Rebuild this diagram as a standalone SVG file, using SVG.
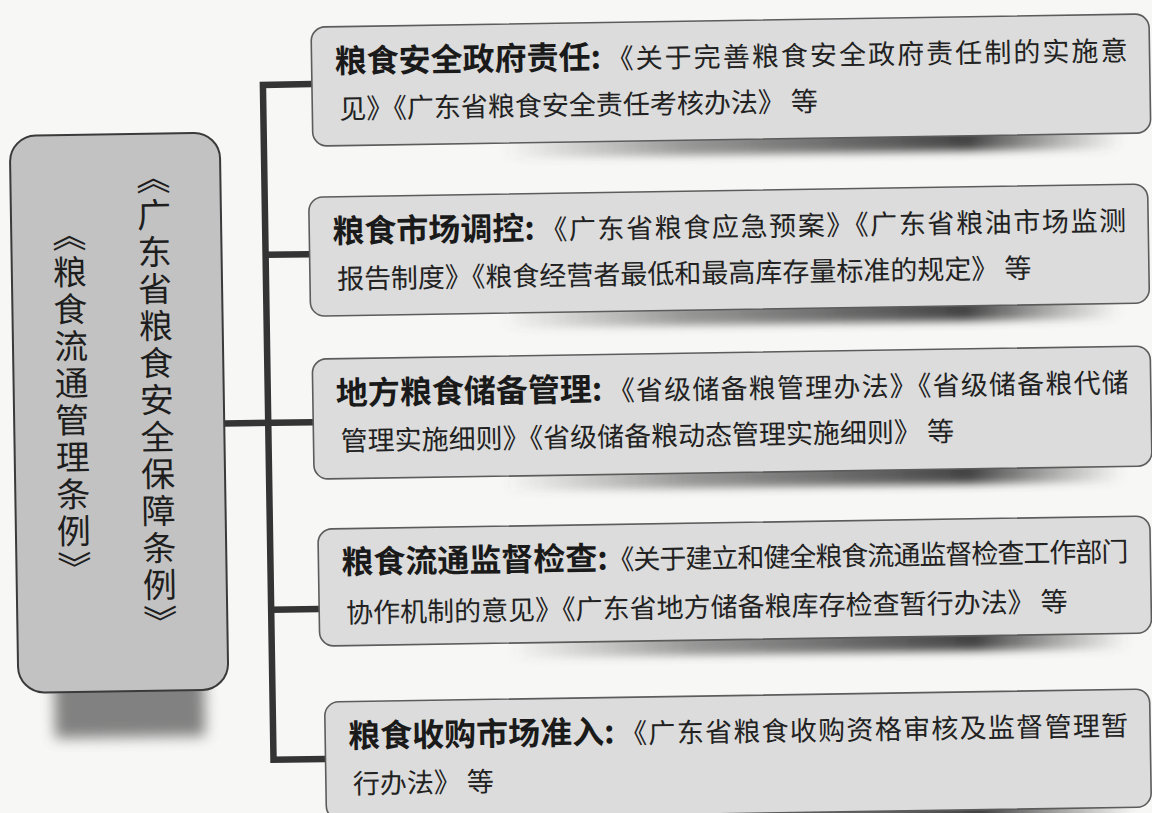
<svg xmlns="http://www.w3.org/2000/svg" width="1152" height="813" viewBox="0 0 1152 813">
<defs>
<style>
.bg{fill:#f7f7f6}
.box{fill:#dcdcdc;stroke:#5c5c5c;stroke-width:1.6}
.main{fill:#c2c2c2;stroke:#3a3a3a;stroke-width:2}
.h{font-family:"Noto Sans CJK SC","Noto Sans CJK TC",sans-serif;font-size:32px;font-weight:700;fill:#1a1a1a}
.b{font-family:"Noto Sans CJK SC","Noto Sans CJK TC",sans-serif;font-size:27px;fill:#222}
.v{font-family:"Noto Sans CJK SC","Noto Sans CJK TC",sans-serif;font-size:34px;letter-spacing:3px;writing-mode:vertical-rl;fill:#1e1e1e}
.con{fill:none;stroke:#343434;stroke-width:6.5;stroke-linecap:butt;stroke-linejoin:miter}
.sh{fill:url(#shg);filter:url(#blur)}
.msh{fill:#5a5a5a;opacity:0.75;filter:url(#blur2)}
</style>
<linearGradient id="shg" x1="0" x2="1" y1="0" y2="0">
<stop offset="0" stop-color="#555" stop-opacity="0"/>
<stop offset="0.3" stop-color="#555" stop-opacity="0.6"/>
<stop offset="0.75" stop-color="#3a3a3a" stop-opacity="0.95"/>
<stop offset="1" stop-color="#555" stop-opacity="0"/>
</linearGradient>
<filter id="blur" x="-10%" y="-100%" width="120%" height="300%"><feGaussianBlur stdDeviation="4"/></filter>
<filter id="blur2" x="-30%" y="-30%" width="160%" height="160%"><feGaussianBlur stdDeviation="7"/></filter>
</defs>
<rect class="bg" width="1152" height="813"/>
<g transform="rotate(-0.9 576 406)">
<g id="connectors">
<path class="con" d="M317 80 H268 V755 H320"/>
<path class="con" d="M268 250 H312"/>
<path class="con" d="M224 418 H313"/>
<path class="con" d="M268 605 H316"/>
</g>
<g id="root">
<rect class="msh" x="50" y="668" width="150" height="62"/>
<rect class="main" x="14" y="127" width="210" height="557" rx="26"/>
<text class="v" x="157" y="154">《广东省粮食安全保障条例》</text>
<text class="v" x="72" y="210">《粮食流通管理条例》</text>
</g>
<g id="n1" transform="translate(317 23)">
<rect class="sh" x="190" y="110" width="620" height="24"/>
<rect class="box" width="838" height="119" rx="14"/>
<text class="h" x="23" y="46">粮食安全政府责任:</text>
<text class="b" x="295" y="46" textLength="521" lengthAdjust="spacing">《关于完善粮食安全政府责任制的实施意</text>
<text class="b" x="27" y="92">见》《广东省粮食安全责任考核办法》 等</text>
</g>
<g id="n2" transform="translate(312 193)">
<rect class="sh" x="190" y="110" width="620" height="24"/>
<rect class="box" width="839" height="119" rx="14"/>
<text class="h" x="23" y="46">粮食市场调控:</text>
<text class="b" x="231" y="46" textLength="586" lengthAdjust="spacing">《广东省粮食应急预案》《广东省粮油市场监测</text>
<text class="b" x="27" y="92">报告制度》《粮食经营者最低和最高库存量标准的规定》 等</text>
</g>
<g id="n3" transform="translate(313 355)">
<rect class="sh" x="190" y="111" width="620" height="24"/>
<rect class="box" width="838" height="120" rx="14"/>
<text class="h" x="23" y="46">地方粮食储备管理:</text>
<text class="b" x="295" y="46" textLength="521" lengthAdjust="spacing">《省级储备粮管理办法》《省级储备粮代储</text>
<text class="b" x="27" y="92">管理实施细则》《省级储备粮动态管理实施细则》 等</text>
</g>
<g id="n4" transform="translate(316 525)">
<rect class="sh" x="190" y="108" width="620" height="24"/>
<rect class="box" width="832" height="117" rx="14"/>
<text class="h" x="23" y="45">粮食流通监督检查:</text>
<text class="b" x="289" y="45" textLength="521" lengthAdjust="spacing">《关于建立和健全粮食流通监督检查工作部门</text>
<text class="b" x="27" y="94">协作机制的意见》《广东省地方储备粮库存检查暂行办法》 等</text>
</g>
<g id="n5" transform="translate(320 698)">
<rect class="sh" x="190" y="109" width="620" height="24"/>
<rect class="box" width="825" height="118" rx="14"/>
<text class="h" x="23" y="46">粮食收购市场准入:</text>
<text class="b" x="295" y="46" textLength="508" lengthAdjust="spacing">《广东省粮食收购资格审核及监督管理暂</text>
<text class="b" x="27" y="92">行办法》 等</text>
</g>
</g>
</svg>
